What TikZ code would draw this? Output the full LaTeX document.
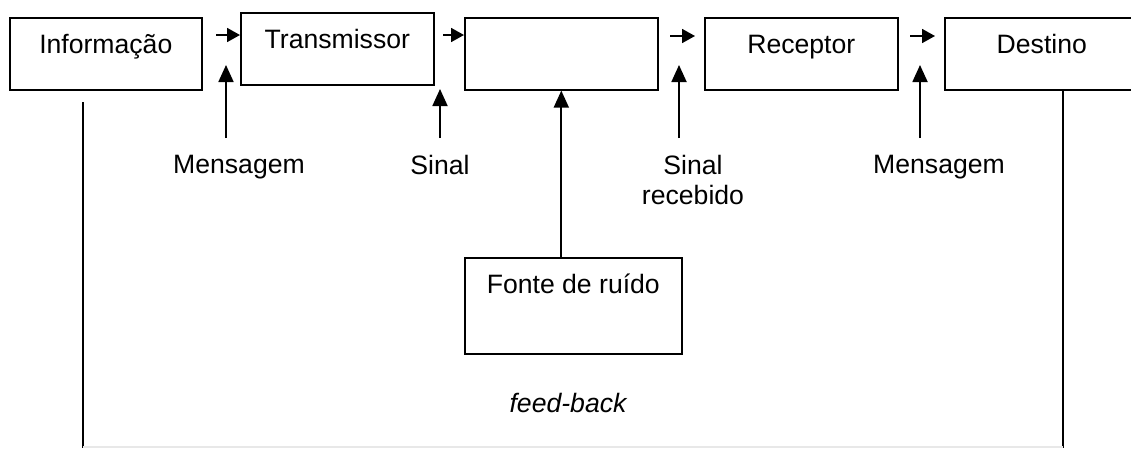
\documentclass[tikz,border=0pt]{standalone}
\usepackage{fontspec}
\setmainfont{Liberation Sans}
\usetikzlibrary{arrows.meta}
\tikzset{
  blk/.style={draw, line width=1.6pt, inner sep=0pt, text height=36pt,
              text depth=#1, anchor=north west},
  blk/.default=36pt,
  lbl/.style={inner sep=0pt, align=center, anchor=north},
  wire/.style={line width=1.8pt},
  hin/.style={wire, -{Triangle[length=13pt,width=14pt]}},
  vin/.style={wire, -{Triangle[length=17pt,width=15pt]}}
}
\begin{document}
\begin{tikzpicture}[x=1pt, y=-1pt, font=\fontsize{26.6}{30}\selectfont]
\useasboundingbox (0,0) rectangle (1131,448);

% chain of blocks
\node[blk, minimum width=192pt] (info) at (9,17) {Informação};
\node[blk, minimum width=193pt] (tx)   at (240,12) {Transmissor};
\node[blk, minimum width=193pt] (ch)   at (464,17) {};
\node[blk, minimum width=193pt] (rx)   at (704,17) {Receptor};
\node[blk, minimum width=194pt] (dst)  at (944,17) {Destino};
\node[blk=60pt, minimum width=217pt] (noise) at (464,257) {Fonte de ruído};

% signal labels
\node[lbl] (lm1) at (239,155) {Mensagem};
\node[lbl] (ls)  at (440,155) {Sinal};
\node[lbl] (lsr) at (693,155) {Sinal\\recebido};
\node[lbl] (lm2) at (939,155) {Mensagem};
\node[inner sep=0pt, anchor=base, font=\fontsize{26.6}{30}\selectfont\itshape]
  (fb) at (568,412) {feed-back};

% short arrows between blocks
\coordinate (h1) at (216,35);
\coordinate (h2) at (443,35);
\coordinate (h3) at (670,36);
\coordinate (h3e) at (695,36);
\coordinate (h4) at (910,36);
\coordinate (h4e) at (935,36);
\draw[hin] (h1) -- (h1 -| tx.west);
\draw[hin] (h2) -- (h2 -| ch.west);
\draw[hin] (h3) -- (h3e);
\draw[hin] (h4) -- (h4e);

% vertical arrows from the labels
\coordinate (v1) at (226,138);  \coordinate (v1e) at (226,65);
\coordinate (v2) at (440,138);  \coordinate (v2e) at (440,89);
\coordinate (v3) at (679,138);  \coordinate (v3e) at (679,65);
\coordinate (v4) at (920,138);  \coordinate (v4e) at (920,65);
\draw[vin] (v1) -- (v1e);
\draw[vin] (v2) -- (v2e);
\draw[vin] (v3) -- (v3e);
\draw[vin] (v4) -- (v4e);

% noise into the channel
\draw[vin] (noise.north -| ch.south) -- (ch.south);

% feedback loop
\coordinate (fl) at (83,102);
\coordinate (flb) at (83,448);
\coordinate (frb) at (1063,448);
\draw[wire] (fl) -- (flb);
\draw[wire] (dst.south -| frb) -- (frb);
\draw[gray!18, line width=1.5pt] (83,447) -- (1063,447);
\end{tikzpicture}
\end{document}
